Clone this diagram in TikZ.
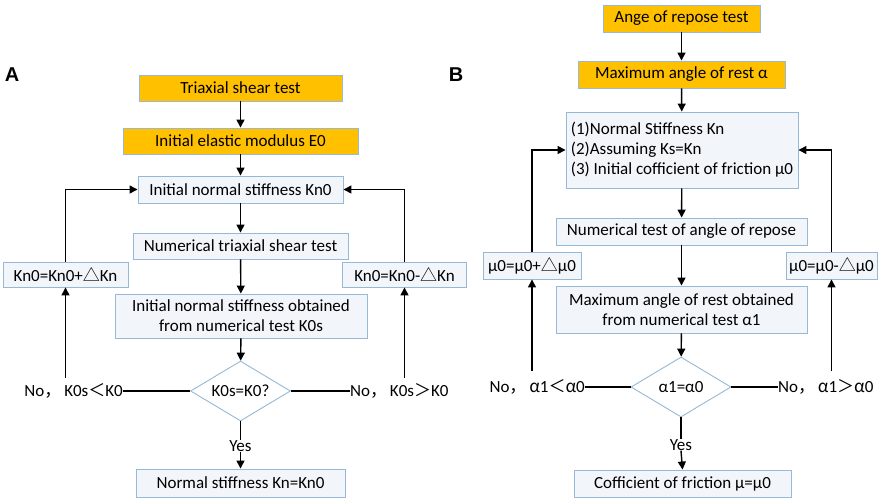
\documentclass[tikz,border=0pt]{standalone}
\usepackage{fontspec}
\setmainfont{Carlito}
\newfontfamily\cjk{Noto Sans CJK SC}
\newfontfamily\arialf{Liberation Sans}
\usetikzlibrary{shapes.geometric,arrows.meta}
\definecolor{orng}{HTML}{FFC000}
\definecolor{bord}{RGB}{150,185,215}
\definecolor{lite}{RGB}{242,246,250}
\begin{document}
\begin{tikzpicture}[x=1pt,y=-1pt,
  every node/.style={font=\fontsize{17}{20}\selectfont},
  obox/.style={draw=bord, fill=orng, inner sep=0pt, line width=0.9pt},
  lbox/.style={draw=bord, fill=lite, inner sep=0pt, line width=0.9pt, align=center},
  dbox/.style={diamond, draw=bord, fill=white, inner sep=0pt, line width=0.9pt, minimum width=100pt, minimum height=60pt, aspect=1.667},
  arr/.style={-{Triangle[length=8pt,width=8pt]}, line width=1.4pt},
  ln/.style={line width=1.4pt},
  lab/.style={inner sep=0pt},
  pan/.style={font=\arialf\bfseries\fontsize{20}{20}\selectfont, inner sep=0pt}]
\path[use as bounding box, fill=white] (0,0) rectangle (886,499);

% ---------- Panel A ----------
\node[pan] (A) at (12,75) {A};
\node[obox, minimum width=203pt, minimum height=26pt] (a1) at (240.5,88) {Triaxial shear test};
\node[obox, minimum width=235pt, minimum height=26pt] (a2) at (240.5,141) {Initial elastic modulus E0};
\node[lbox, minimum width=205pt, minimum height=27pt] (a3) at (240.5,189.5) {Initial normal stiffness Kn0};
\node[lbox, minimum width=215pt, minimum height=26pt] (a4) at (240.5,246) {Numerical triaxial shear test};
\node[lbox, minimum width=252pt, minimum height=44pt] (a5) at (241,316) {Initial normal stiffness obtained\\from numerical test K0s};
\node[dbox] (ad) at (240.5,391) {K0s=K0?};
\node[lbox, minimum width=209pt, minimum height=28pt] (a6) at (240.5,483) {Normal stiffness Kn=Kn0};
\node[lbox, minimum width=125pt, minimum height=25pt] (al) at (65.5,274.5) {Kn0=Kn0+{\cjk △}Kn};
\node[lbox, minimum width=124pt, minimum height=25pt] (ar) at (404.5,274.5) {Kn0=Kn0-{\cjk △}Kn};
\node[lab, anchor=east] (alt) at (123,391) {No{\cjk ，}\,K0s{\cjk ＜}K0};
\node[lab, anchor=west] (art) at (350,391) {No{\cjk ，}\,K0s{\cjk ＞}K0};
\node[lab] (ay) at (240.5,446) {Yes};
\coordinate (alb) at (65.5,378);
\coordinate (arb) at (404.5,378);

\draw[arr] (a1) -- (a2);
\draw[arr] (a2) -- (a3);
\draw[arr] (a3) -- (a4);
\draw[arr] (a4) -- (a5);
\draw[arr] (a5) -- (ad);
\draw[ln] (ad.west) -- (alt.east);
\draw[ln] (ad.east) -- (art.west);
\draw[arr] (alb) -- (al.south);
\draw[arr] (arb) -- (ar.south);
\draw[arr] (al.north) |- (a3.west);
\draw[arr] (ar.north) |- (a3.east);
\draw[ln] (ad.south) -- (ay.north);
\draw[arr] (ay.south) -- (a6.north);

% ---------- Panel B ----------
\node[pan] (B) at (456,75) {B};
\node[obox, minimum width=157pt, minimum height=27pt] (b1) at (681.5,18.5) {Ange of repose test};
\node[obox, minimum width=207pt, minimum height=27pt] (b2) at (681.5,74.5) {Maximum angle of rest α};
\node[lbox, minimum width=232pt, minimum height=76pt, align=left] (b3) at (682,150) {(1)Normal Stiffness Kn\\(2)Assuming Ks=Kn\\(3) Initial cofficient of friction μ0};
\node[lbox, minimum width=251pt, minimum height=27pt] (b4) at (681.5,231.5) {Numerical test of angle of repose};
\node[lbox, minimum width=251pt, minimum height=47pt] (b5) at (681.5,309.5) {Maximum angle of rest obtained\\from numerical test α1};
\node[dbox] (bd) at (681,387) {α1=α0};
\node[lbox, minimum width=217pt, minimum height=27pt] (b6) at (682.5,483.5) {Cofficient of friction μ=μ0};
\node[lbox, minimum width=98pt, minimum height=27pt] (bl) at (532,265.5) {μ0=μ0+{\cjk △}μ0};
\node[lbox, minimum width=91pt, minimum height=27pt] (br) at (831.5,265.5) {μ0=μ0-{\cjk △}μ0};
\node[lab, anchor=east] (blt) at (585,387) {No{\cjk ，}\,{\cjk α}1{\cjk ＜}{\cjk α}0};
\node[lab, anchor=west] (brt) at (778,387) {No{\cjk ，}\,{\cjk α}1{\cjk ＞}{\cjk α}0};
\node[lab] (by) at (681,445) {Yes};
\coordinate (blb) at (532,371);
\coordinate (brb) at (831.5,371);

\draw[arr] (b1) -- (b2);
\draw[arr] (b2) -- (b3);
\draw[arr] (b3) -- (b4);
\draw[arr] (b4) -- (b5);
\draw[arr] (b5) -- (bd);
\draw[ln] (bd.west) -- (blt.east);
\draw[ln] (bd.east) -- (brt.west);
\draw[arr] (blb) -- (bl.south);
\draw[arr] (brb) -- (br.south);
\draw[arr] (bl.north) |- (b3.west);
\draw[arr] (br.north) |- (b3.east);
\draw[ln] (bd.south) -- (by.north);
\draw[arr] (by.south) -- (b6.north);
\end{tikzpicture}
\end{document}
